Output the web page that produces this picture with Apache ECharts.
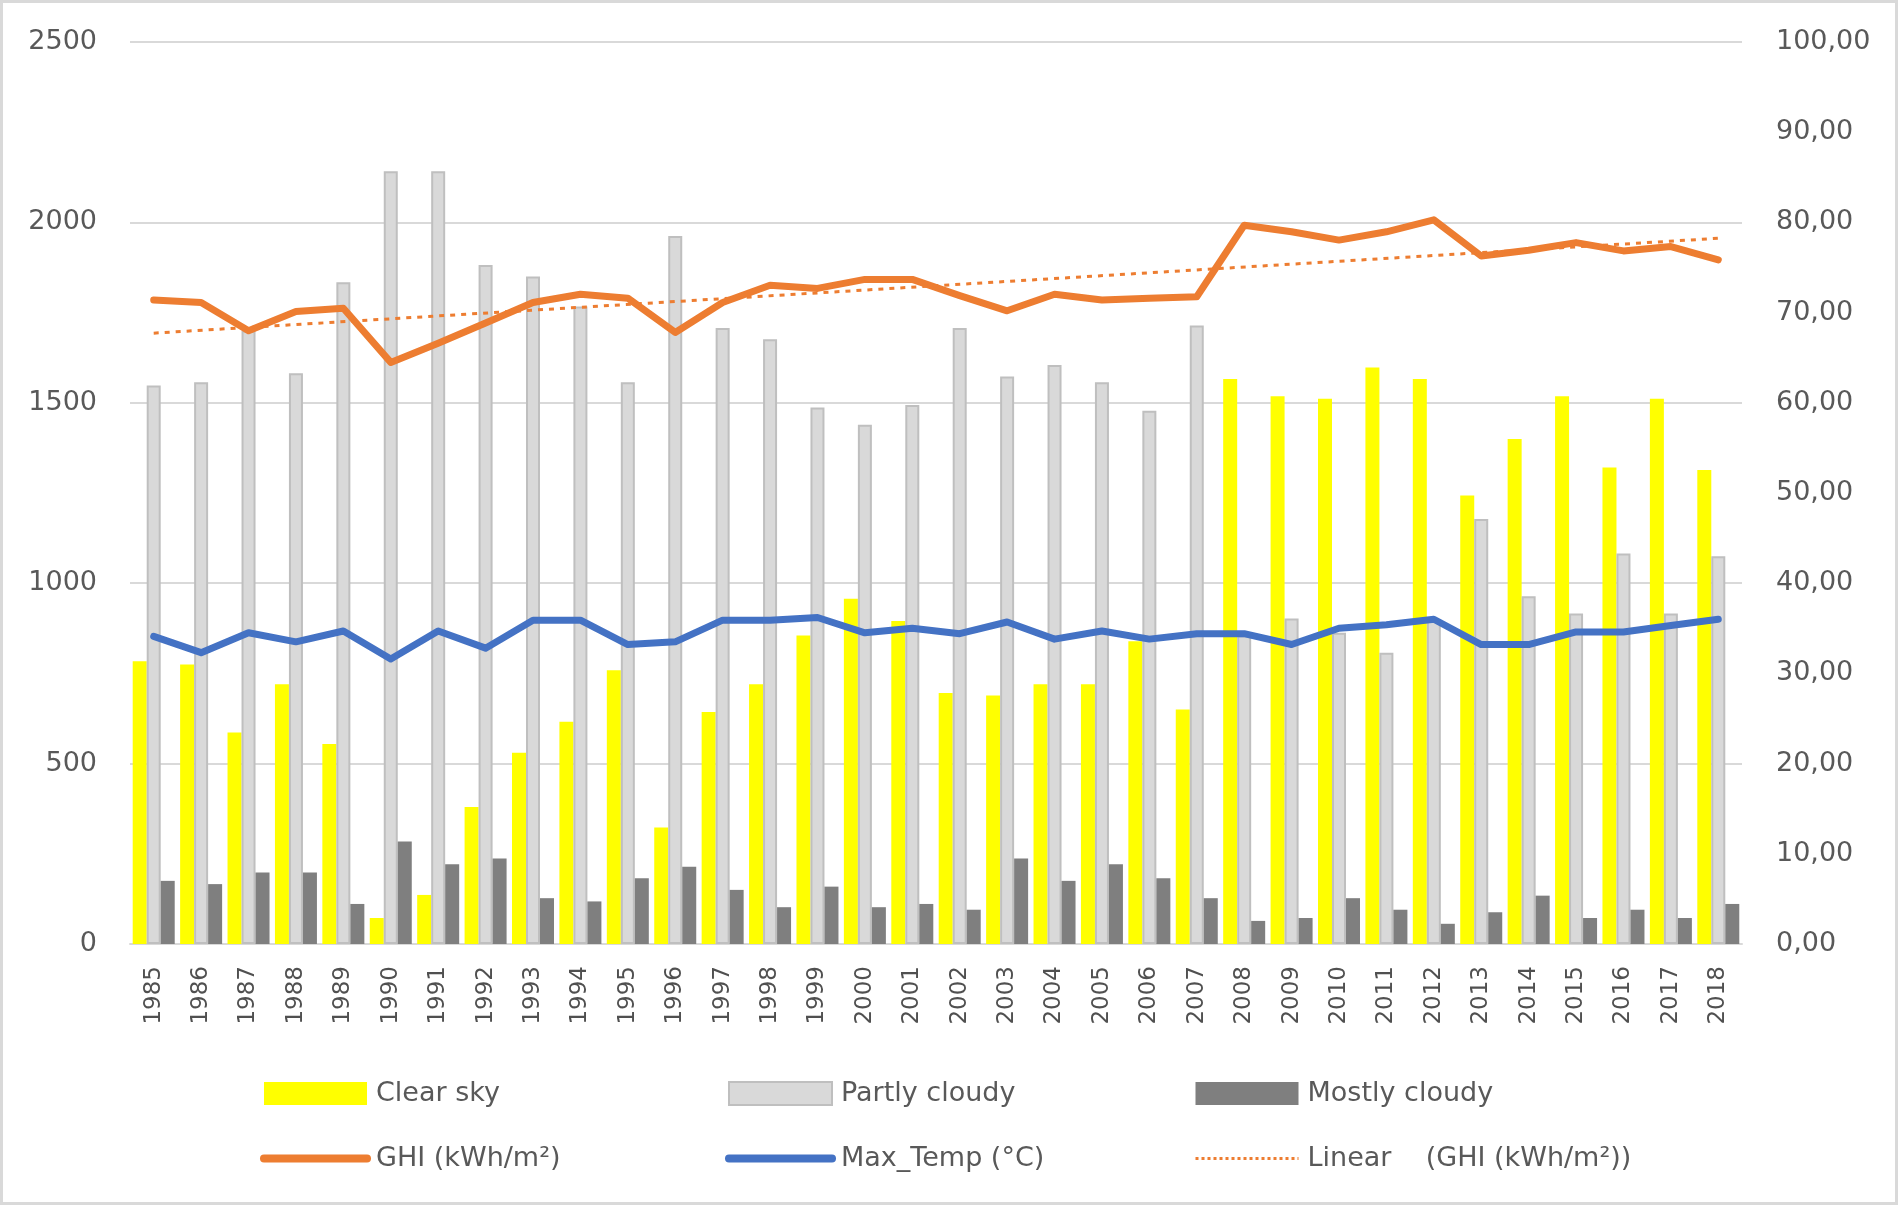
<!DOCTYPE html>
<html>
<head>
<meta charset="utf-8">
<script src="https://cdn.jsdelivr.net/npm/echarts@6/dist/echarts.min.js"></script>
<style>
  html, body { margin: 0; padding: 0; background: #ffffff; }
  #chart { width: 1900px; height: 1208px; }
</style>
</head>
<body>
<div id="chart"></div>
<script>
const years = ['1985','1986','1987','1988','1989','1990','1991','1992','1993','1994',
  '1995','1996','1997','1998','1999','2000','2001','2002','2003','2004',
  '2005','2006','2007','2008','2009','2010','2011','2012','2013','2014',
  '2015','2016','2017','2018'];

const clearSky = [784,775,586,720,554,72,136,380,530,616,
  759,323,643,720,855,957,895,696,689,720,
  720,839,650,1566,1518,1511,1598,1566,1243,1400,
  1518,1321,1511,1314];

const partlyCloudy = [1548,1557,1700,1582,1834,2142,2142,1882,1850,1767,
  1557,1962,1707,1676,1487,1439,1494,1707,1573,1605,
  1557,1478,1714,855,902,863,807,900,1178,964,
  916,1082,916,1075];

const mostlyCloudy = [175,166,198,198,111,284,221,237,127,118,
  182,214,150,102,159,102,111,95,237,175,
  221,182,127,64,72,127,95,56,88,134,
  72,95,72,111];

const ghi = [1785,1778,1700,1753,1762,1612,1665,1721,1778,1801,
  1790,1695,1778,1826,1817,1842,1842,1797,1755,1801,
  1785,1790,1794,1992,1974,1951,1974,2007,1907,1923,
  1944,1921,1933,1896];

const maxTemp = [34.1,32.3,34.5,33.5,34.7,31.6,34.7,32.8,35.9,35.9,
  33.2,33.5,35.9,35.9,36.2,34.5,35.0,34.4,35.7,33.8,
  34.7,33.8,34.4,34.4,33.2,35.0,35.4,36.0,33.2,33.2,
  34.6,34.6,35.3,36.0];

// Linear trend of GHI, end points (1985, 2018)
const trendYears = ['1985', '2018'];
const trendValues = [1693, 1956];

const names = {
  clear: 'Clear sky',
  partly: 'Partly cloudy',
  mostly: 'Mostly cloudy',
  ghi: 'GHI (kWh/m²)',
  temp: 'Max_Temp (°C)',
  trend: 'Linear    (GHI (kWh/m²))'
};

const FONT = 'DejaVu Sans';
const TXT = '#595959';

const chart = echarts.init(document.getElementById('chart'), null, { renderer: 'canvas' });

const legendCommon = {
  orient: 'vertical',
  itemWidth: 103,
  itemHeight: 23,
  itemGap: 38,
  top: 1080,
  padding: 0,
  selectedMode: false,
  textStyle: { fontFamily: FONT, fontSize: 27, color: TXT, padding: [0, 0, 0, 4] }
};

const hiddenSymbol = { opacity: 0, color: 'transparent', borderWidth: 0 };

const option = {
  backgroundColor: '#ffffff',
  animation: false,
  graphic: [{
    type: 'rect',
    shape: { x: 1.5, y: 1.5, width: 1895, height: 1202 },
    style: { fill: null, stroke: '#d9d9d9', lineWidth: 3 },
    silent: true
  }],
  grid: { left: 130, right: 158, top: 42, bottom: 264, containLabel: false },
  legend: [
    Object.assign({}, legendCommon, { left: 260, data: [
      { name: names.clear, icon: 'rect' },
      { name: names.ghi, lineStyle: { width: 8, cap: 'round' }, itemStyle: hiddenSymbol }
    ]}),
    Object.assign({}, legendCommon, { left: 725, data: [
      { name: names.partly, icon: 'rect' },
      { name: names.temp, lineStyle: { width: 8, cap: 'round' }, itemStyle: hiddenSymbol }
    ]}),
    Object.assign({}, legendCommon, { left: 1194, data: [
      { name: names.mostly, icon: 'rect' },
      { name: names.trend, lineStyle: { width: 3, type: [3, 3] }, itemStyle: hiddenSymbol }
    ]})
  ],
  xAxis: {
    type: 'category',
    data: years,
    boundaryGap: true,
    axisLine: { show: true, lineStyle: { color: '#d9d9d9', width: 2 } },
    axisTick: { show: false },
    axisLabel: {
      rotate: 90,
      margin: 22,
      interval: 0,
      fontFamily: FONT,
      fontSize: 23,
      color: '#505050',
      padding: [0, 0, 12, 0]
    },
    splitLine: { show: false }
  },
  yAxis: [
    {
      type: 'value',
      min: 0,
      max: 2500,
      interval: 500,
      axisLine: { show: false },
      axisTick: { show: false },
      axisLabel: {
        margin: 33, fontFamily: FONT, fontSize: 27, color: TXT,
        formatter: function (v) { return String(v); }
      },
      splitLine: { show: true, lineStyle: { color: '#d9d9d9', width: 2 } }
    },
    {
      type: 'value',
      min: 0,
      max: 100,
      interval: 10,
      position: 'right',
      axisLine: { show: false },
      axisTick: { show: false },
      axisLabel: {
        margin: 34,
        fontFamily: FONT,
        fontSize: 27,
        color: TXT,
        formatter: function (v) { return v.toFixed(2).replace('.', ','); }
      },
      splitLine: { show: false }
    }
  ],
  series: [
    {
      name: names.clear,
      type: 'bar',
      data: clearSky,
      barWidth: 14,
      barGap: '0%',
      itemStyle: { color: '#ffff00' },
      z: 2
    },
    {
      name: names.partly,
      type: 'bar',
      data: partlyCloudy,
      barWidth: 14,
      barGap: '0%',
      itemStyle: { color: '#d9d9d9', borderColor: '#bfbfbf', borderWidth: 2 },
      z: 2
    },
    {
      name: names.mostly,
      type: 'bar',
      data: mostlyCloudy,
      barWidth: 14,
      barGap: '0%',
      itemStyle: { color: '#7f7f7f' },
      z: 2
    },
    {
      name: names.ghi,
      type: 'line',
      yAxisIndex: 0,
      data: ghi,
      symbol: 'none',
      lineStyle: { color: '#ed7d31', width: 7, join: 'round', cap: 'round' },
      itemStyle: { color: '#ed7d31' },
      z: 4
    },
    {
      name: names.temp,
      type: 'line',
      yAxisIndex: 1,
      data: maxTemp,
      symbol: 'none',
      lineStyle: { color: '#4472c4', width: 7, join: 'round', cap: 'round' },
      itemStyle: { color: '#4472c4' },
      z: 4
    },
    {
      name: names.trend,
      type: 'line',
      yAxisIndex: 0,
      data: trendYears.map(function (y, i) { return [y, trendValues[i]]; }),
      symbol: 'none',
      lineStyle: { color: '#ed7d31', width: 3, type: [5, 6] },
      itemStyle: { color: '#ed7d31' },
      z: 5
    }
  ]
};

chart.setOption(option);
</script>
</body>
</html>
